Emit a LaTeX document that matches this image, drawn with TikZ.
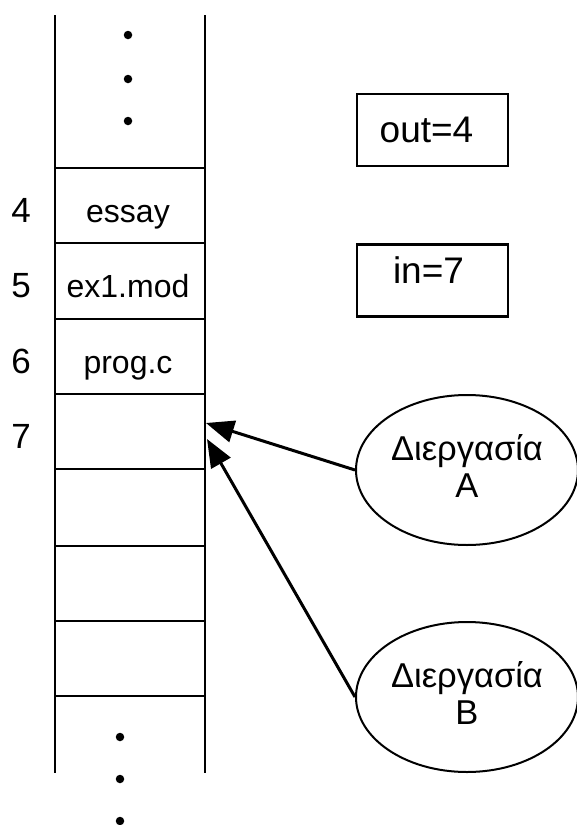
\documentclass[tikz,border=0pt]{standalone}
\usepackage{fontspec}
\setmainfont{Liberation Sans}
\usetikzlibrary{arrows.meta,shapes.geometric}

\begin{document}
\begin{tikzpicture}[x=1pt,y=-1pt,
  rail/.style={line width=2pt},
  sep/.style={line width=2pt},
  dot/.style={circle,fill=black,inner sep=0pt,minimum size=8.5pt},
  idx/.style={anchor=base,font=\fontsize{35}{40}\selectfont,inner sep=0pt},
  cell/.style={anchor=base,font=\fontsize{32}{37}\selectfont,inner sep=0pt},
  reg/.style={draw,line width=2.2pt,minimum width=151pt,minimum height=72pt,inner sep=0pt,font=\fontsize{37}{42}\selectfont},
  proc/.style={draw,ellipse,line width=2pt,minimum width=222pt,minimum height=150pt,inner sep=0pt,align=center,font=\fontsize{34.5}{37}\selectfont},
  ptr/.style={line width=3pt,-{Triangle[length=28pt,width=22pt]}}]
\useasboundingbox (0,0) rectangle (576,825);

% buffer column
\draw[rail] (55,15) -- (55,773);
\draw[rail] (205,15) -- (205,773);
\foreach \y in {168,243,319,394,469,546,621,696}
  \draw[sep] (55,\y) -- (205,\y);

% ellipsis dots above and below
\foreach \y in {35,79,121} \node[dot] at (128,\y) {};
\foreach \y in {737,779,821} \node[dot] at (120,\y) {};

% slot indices
\node[idx] (i4) at (21,222) {4};
\node[idx] (i5) at (21,297) {5};
\node[idx] (i6) at (21,373) {6};
\node[idx] (i7) at (21,448) {7};

% slot contents
\node[cell] (s4) at (128,222) {essay};
\node[cell] (s5) at (128,297) {ex1.mod};
\node[cell] (s6) at (128,373) {prog.c};

% pointers
\node[reg] (out) at (432.5,130) {\kern-12pt out=4};
\node[reg,text depth=20pt] (in) at (432.5,280.5) {\kern-8pt in=7};

% processes
\node[proc,text depth=8pt] (pa) at (467,470) {Διεργασία\\A};
\node[proc,text depth=8pt] (pb) at (467,697) {Διεργασία\\B};

\coordinate (ta) at (206,423);
\coordinate (tb) at (207,439);
\draw[ptr] (pa.west) -- (ta);
\draw[ptr] (pb.west) -- (tb);
\end{tikzpicture}
\end{document}
